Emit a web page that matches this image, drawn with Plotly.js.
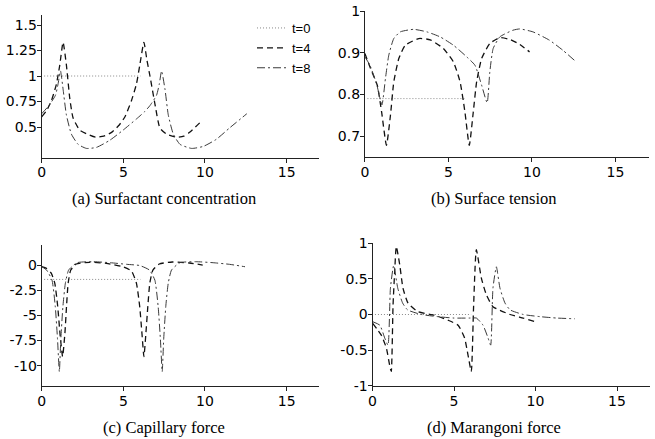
<!DOCTYPE html>
<html><head><meta charset="utf-8">
<script src="https://cdn.plot.ly/plotly-3.0.1.min.js"></script>
<style>html,body{margin:0;padding:0;background:#fff}#chart{width:655px;height:439px}</style>
</head><body><div id="chart"></div>
<script>
// t = 0 (initial state, constant)
const x0 = [0.15, 6.05];
const a0 = [1, 1];
const b0 = [0.79, 0.79];
const c0 = [-1.43, -1.43];
const d0 = [0, 0];

// (a) Surfactant concentration
const xa4 = [0, 0.3, 0.6, 0.9, 1.1, 1.31, 1.51, 1.72, 1.92, 2.33, 2.94, 3.3, 3.8, 4.3, 4.75, 5.1, 5.5, 5.8, 6.0, 6.26, 6.45, 6.63, 6.93, 7.24, 7.65, 8.26, 8.7, 9.08, 9.8];
const ya4 = [0.6, 0.66, 0.76, 0.92, 1.1, 1.33, 1.11, 0.78, 0.59, 0.47, 0.42, 0.40, 0.41, 0.45, 0.52, 0.6, 0.76, 0.92, 1.1, 1.33, 1.15, 1.0, 0.73, 0.49, 0.43, 0.40, 0.41, 0.45, 0.56];
const xa8 = [0, 0.44, 0.84, 1.0, 1.15, 1.31, 1.51, 1.82, 2.23, 2.74, 3.35, 4.17, 4.99, 5.81, 6.3, 6.63, 7.03, 7.2, 7.34, 7.55, 7.75, 8.06, 8.47, 9.18, 9.9, 10.7, 11.5, 12.56];
const ya8 = [0.63, 0.71, 0.81, 0.92, 1.05, 0.87, 0.62, 0.43, 0.33, 0.29, 0.30, 0.37, 0.47, 0.58, 0.65, 0.71, 0.81, 0.92, 1.05, 0.87, 0.62, 0.43, 0.33, 0.29, 0.31, 0.38, 0.49, 0.63];

// (b) Surface tension
const xb4 = [0, 0.34, 0.74, 1.0, 1.29, 1.53, 1.73, 2.03, 2.42, 3.23, 3.91, 4.7, 5.3, 5.7, 5.99, 6.25, 6.49, 6.69, 6.99, 7.48, 8.08, 8.67, 9.27, 9.86];
const yb4 = [0.898, 0.862, 0.822, 0.758, 0.678, 0.75, 0.83, 0.886, 0.918, 0.934, 0.931, 0.91, 0.878, 0.83, 0.758, 0.678, 0.758, 0.83, 0.886, 0.922, 0.936, 0.932, 0.92, 0.902];
const xb8 = [0, 0.3, 0.7, 1.02, 1.23, 1.43, 1.73, 2.12, 2.92, 3.71, 4.5, 5.3, 6.1, 6.59, 6.99, 7.32, 7.48, 7.68, 8.08, 8.87, 9.27, 10.06, 11.05, 11.85, 12.54];
const yb8 = [0.89, 0.87, 0.825, 0.775, 0.838, 0.894, 0.934, 0.95, 0.956, 0.95, 0.938, 0.918, 0.89, 0.87, 0.822, 0.78, 0.854, 0.91, 0.938, 0.954, 0.957, 0.95, 0.93, 0.906, 0.882];

// (c) Capillary force
const xc4 = [0, 0.29, 0.59, 0.8, 0.98, 1.12, 1.28, 1.42, 1.52, 1.62, 1.78, 2.12, 2.94, 3.96, 4.97, 5.5, 5.8, 6.0, 6.14, 6.26, 6.38, 6.5, 6.62, 6.81, 7.2, 8.0, 9.05, 9.86];
const yc4 = [-0.17, -0.33, -0.83, -1.8, -4.1, -6.8, -9.1, -6.8, -4.1, -1.8, -0.5, 0.1, 0.27, 0.17, -0.17, -0.6, -1.8, -4.1, -6.8, -9.1, -6.8, -4.1, -1.8, -0.5, 0.1, 0.3, 0.2, 0.0];
const xc8 = [0, 0.3, 0.63, 0.83, 0.97, 1.08, 1.17, 1.3, 1.45, 1.65, 2.16, 3.16, 4.2, 5.2, 6.0, 6.6, 6.93, 7.13, 7.27, 7.38, 7.47, 7.6, 7.75, 7.95, 8.46, 9.46, 10.5, 11.5, 12.45];
const yc8 = [-0.15, -0.5, -1.5, -4.1, -7.4, -10.6, -7.4, -4.1, -1.8, -0.5, 0.23, 0.33, 0.23, 0.07, -0.05, -0.5, -1.5, -4.1, -7.4, -10.6, -7.4, -4.1, -1.8, -0.5, 0.23, 0.33, 0.23, 0.07, -0.17];

// (d) Marangoni force
const xd4 = [0, 0.54, 0.85, 1.05, 1.15, 1.26, 1.36, 1.46, 1.67, 1.87, 2.18, 2.79, 3.8, 4.63, 5.25, 5.65, 5.86, 6.06, 6.2, 6.37, 6.68, 6.98, 7.39, 8.44, 9.25, 9.97];
const yd4 = [-0.12, -0.29, -0.47, -0.71, -0.8, 0.13, 0.6, 0.955, 0.7, 0.37, 0.16, 0.04, -0.01, -0.08, -0.15, -0.33, -0.57, -0.8, 0.1, 0.91, 0.51, 0.28, 0.11, 0.0, -0.05, -0.1];
const xd8 = [0, 0.45, 0.75, 0.95, 1.1, 1.3, 1.55, 1.85, 2.15, 3.0, 4.0, 5.0, 6.0, 6.37, 6.78, 7.09, 7.25, 7.39, 7.6, 7.82, 8.13, 8.44, 9.25, 10.27, 11.3, 12.42];
const yd8 = [-0.1, -0.15, -0.33, -0.43, 0.37, 0.69, 0.37, 0.16, 0.065, 0.0, -0.03, -0.05, -0.05, -0.05, -0.15, -0.33, -0.43, 0.37, 0.67, 0.37, 0.16, 0.065, 0.0, -0.03, -0.05, -0.06];

const seriesNames = ['t=0', 't=4', 't=8'];
const xTicks = [0, 5, 10, 15];
const aTicks = [0.5, 0.75, 1, 1.25, 1.5];
const aTickText = ['0.5', '0.75', '1', '1.25', '1.5'];
const bTicks = [0.7, 0.8, 0.9, 1];
const bTickText = ['0.7', '0.8', '0.9', '1'];
const cTicks = [-10, -7.5, -5, -2.5, 0];
const cTickText = ['-10', '-7.5', '-5', '-2.5', '0'];
const dTicks = [-1, -0.5, 0, 0.5, 1];
const dTickText = ['-1', '-0.5', '0', '0.5', '1'];
const captions = ['(a) Surfactant concentration', '(b) Surface tension', '(c) Capillary force', '(d) Marangoni force'];

const styles = [
  {color: '#8a8a8a', width: 1, dash: '1px,2px'},
  {color: '#111', width: 1.3, dash: '6px,4px'},
  {color: '#3a3a3a', width: 1, dash: '8px,3px,2px,3px'}
];
const panels = [
  {xs: [x0, xa4, xa8], ys: [a0, ya4, ya8], ax: ''},
  {xs: [x0, xb4, xb8], ys: [b0, yb4, yb8], ax: '2'},
  {xs: [x0, xc4, xc8], ys: [c0, yc4, yc8], ax: '3'},
  {xs: [x0, xd4, xd8], ys: [d0, yd4, yd8], ax: '4'}
];
const traces = [];
panels.forEach((p, pi) => {
  for (let s = 0; s < 3; s++) {
    traces.push({
      x: p.xs[s], y: p.ys[s], type: 'scatter', mode: 'lines',
      name: seriesNames[s], showlegend: pi === 0,
      xaxis: 'x' + p.ax, yaxis: 'y' + p.ax,
      line: Object.assign({shape: 'spline', smoothing: 0.5}, styles[s]),
      hoverinfo: 'skip'
    });
  }
});

const tickFont = {family: 'DejaVu Sans, Arial, sans-serif', size: 14, color: '#000'};
function xax(domain, anchor) {
  return {domain: domain, anchor: anchor, range: [0, 17], tickvals: xTicks, ticktext: xTicks.map(String),
    showline: true, linecolor: '#222', linewidth: 1, ticks: 'outside', ticklen: 4, tickcolor: '#222',
    showgrid: false, zeroline: false, tickfont: tickFont, fixedrange: true, ticklabelstandoff: -2};
}
function yax(domain, anchor, range, tv, tt) {
  return {domain: domain, anchor: anchor, range: range, tickvals: tv, ticktext: tt,
    showline: true, linecolor: '#222', linewidth: 1, ticks: 'outside', ticklen: 4, tickcolor: '#222',
    showgrid: false, zeroline: false, tickfont: tickFont, fixedrange: true, ticklabelstandoff: -3};
}
const W = 655, H = 439;
const layout = {
  width: W, height: H, margin: {l: 0, r: 0, t: 0, b: 0},
  paper_bgcolor: '#fff', plot_bgcolor: '#fff',
  xaxis: xax([41.7 / W, 319.3 / W], 'y'),
  yaxis: yax([1 - 157.6 / H, 1 - 14.8 / H], 'x', [0.2, 1.6], aTicks, aTickText),
  xaxis2: xax([364.9 / W, 648.8 / W], 'y2'),
  yaxis2: yax([1 - 157 / H, 1 - 11 / H], 'x2', [0.65, 1.0], bTicks, bTickText),
  xaxis3: xax([41.7 / W, 319.3 / W], 'y3'),
  yaxis3: yax([1 - 385.8 / H, 1 - 244.9 / H], 'x3', [-12, 2], cTicks, cTickText),
  xaxis4: xax([372.5 / W, 649.6 / W], 'y4'),
  yaxis4: yax([1 - 385.7 / H, 1 - 243.3 / H], 'x4', [-1, 1], dTicks, dTickText),
  showlegend: true,
  legend: {x: 252 / W, y: 1 - 13 / H, xanchor: 'left', yanchor: 'top', bgcolor: 'rgba(0,0,0,0)',
    borderwidth: 0, font: {family: 'Liberation Sans, Arial, sans-serif', size: 13, color: '#000'},
    itemwidth: 30, tracegroupgap: 0},
  annotations: [
    {text: captions[0], x: 164 / W, y: 1 - 198 / H},
    {text: captions[1], x: 494 / W, y: 1 - 198 / H},
    {text: captions[2], x: 164 / W, y: 1 - 427 / H},
    {text: captions[3], x: 494 / W, y: 1 - 427 / H}
  ].map(a => Object.assign(a, {xref: 'paper', yref: 'paper', showarrow: false, xanchor: 'center', yanchor: 'middle',
    font: {family: 'Liberation Serif, Times New Roman, serif', size: 16.5, color: '#000'}}))
};
Plotly.newPlot('chart', traces, layout, {staticPlot: true, displayModeBar: false});
</script></body></html>
